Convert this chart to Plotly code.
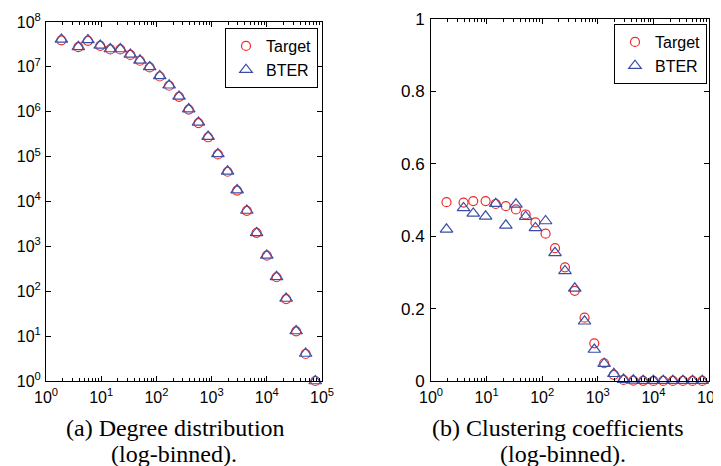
import plotly.graph_objects as go

# ---- data ----
degree_bins = [1.9, 3.85, 5.75, 9.6, 14.6, 22.2, 33.7, 50.4, 75.5, 115, 170, 257, 385, 578,
               865, 1300, 1945, 2900, 4350, 6530, 10000, 15000, 22400, 34000, 50500, 75600]

deg_target = [3.9e7, 2.75e7, 3.8e7, 2.95e7, 2.45e7, 2.45e7, 1.85e7, 1.37e7, 9.7e6, 6.1e6,
              3.8e6, 2.15e6, 1.12e6, 5.6e5, 2.7e5, 1.12e5, 4.6e4, 1.75e4, 6.2e3, 2.0e3,
              6.2e2, 2.05e2, 67, 12.8, 4.0, 1.0]
deg_bter = [4.1e7, 2.8e7, 4.0e7, 3.0e7, 2.5e7, 2.5e7, 1.9e7, 1.4e7, 1.0e7, 6.3e6,
            3.9e6, 2.2e6, 1.15e6, 5.8e5, 2.8e5, 1.15e5, 4.7e4, 1.8e4, 6.3e3, 2.0e3,
            6.3e2, 2.1e2, 69, 13, 4.1, 1.0]

cc_target = [0.494, 0.493, 0.497, 0.497, 0.489, 0.483, 0.474, 0.460, 0.438, 0.407,
             0.367, 0.314, 0.249, 0.175, 0.104, 0.049, 0.017, 0.003, 0.001, 0.0005,
             0.0003, 0.0002, 0.0001, 0.0001, 0.0001, 0.0001]
cc_bter = [0.419, 0.478, 0.463, 0.455, 0.490, 0.430, 0.488, 0.454, 0.423, 0.442,
           0.354, 0.304, 0.256, 0.165, 0.087, 0.048, 0.020, 0.004, 0.002, 0.001,
           0.001, 0.001, 0.001, 0.001, 0.001, 0.001]

x_tick_vals = [1, 10, 100, 1000, 10000, 100000]
x_tick_text = ["10<sup>%d</sup>" % i for i in range(6)]
y1_tick_vals = [10 ** i for i in range(9)]
y1_tick_text = ["10<sup>%d</sup>" % i for i in range(9)]
y2_tick_vals = [0, 0.2, 0.4, 0.6, 0.8, 1]
y2_tick_text = ["0", "0.2", "0.4", "0.6", "0.8", "1"]

RED = "#ee2b2b"
BLUE = "#3a4ea6"
W, H = 721, 466
OFF = 8  # page body margin offset in the browser


def fx(px):
    return (px - OFF) / W


def fy(py):
    return 1 - (py - OFF) / H


fig = go.Figure()


def add_pair(xa, ya, yt, yb, legend):
    fig.add_trace(go.Scatter(
        x=degree_bins, y=yt, mode="markers", name="Target", xaxis=xa, yaxis=ya,
        legend=legend, cliponaxis=False,
        marker=dict(symbol="circle-open", size=9, color=RED, line=dict(width=1.2, color=RED))))
    fig.add_trace(go.Scatter(
        x=degree_bins, y=yb, mode="markers", name="BTER", xaxis=xa, yaxis=ya,
        legend=legend, cliponaxis=False,
        marker=dict(symbol="triangle-up-open", size=11, color=BLUE, line=dict(width=1.2, color=BLUE))))


add_pair("x", "y", deg_target, deg_bter, "legend")
add_pair("x2", "y2", cc_target, cc_bter, "legend2")

SANS = "Liberation Sans, Arial, sans-serif"
logfont = dict(family=SANS, size=16, color="black")
linfont = dict(family=SANS, size=17, color="black")
minor_x = dict(ticks="inside", ticklen=3, tickcolor="black", tickwidth=1, showgrid=False,
               tickmode="array",
               tickvals=[m * 10 ** e for e in range(5) for m in range(2, 10)])

common_x = dict(type="log", range=[0, 5], tickmode="array", tickvals=x_tick_vals,
                ticktext=x_tick_text, ticks="inside", ticklen=5, tickcolor="black",
                showline=True, linecolor="black", linewidth=1, mirror="allticks",
                showgrid=False, zeroline=False, tickfont=logfont, minor=minor_x,
                ticklabelstandoff=2, automargin=False)

legend_common = dict(xanchor="right", yanchor="top", bgcolor="white",
                     bordercolor="black", borderwidth=1,
                     font=dict(family=SANS, size=16, color="black"),
                     itemwidth=30, tracegroupgap=0)

fig.update_layout(
    template="none",
    width=W, height=H, margin=dict(l=0, r=0, t=0, b=0, autoexpand=False),
    paper_bgcolor="white", plot_bgcolor="white",
    showlegend=True,
    xaxis=dict(domain=[fx(46), fx(322)], anchor="y", **common_x),
    xaxis2=dict(domain=[fx(431), fx(709)], anchor="y2", **common_x),
    yaxis=dict(domain=[fy(381), fy(22)], anchor="x", type="log", range=[0, 8],
               tickmode="array", tickvals=y1_tick_vals, ticktext=y1_tick_text,
               ticks="inside", ticklen=5, tickcolor="black", showline=True,
               linecolor="black", linewidth=1, mirror="allticks", showgrid=False,
               zeroline=False, tickfont=logfont, ticklabelstandoff=1, automargin=False),
    yaxis2=dict(domain=[fy(381), fy(19)], anchor="x2", range=[0, 1],
                tickmode="array", tickvals=y2_tick_vals, ticktext=y2_tick_text,
                ticks="inside", ticklen=5, tickcolor="black", showline=True,
                linecolor="black", linewidth=1, mirror="allticks", showgrid=False,
                zeroline=False, tickfont=linfont, ticklabelstandoff=2, automargin=False),
    legend=dict(x=fx(318), y=fy(28), **legend_common),
    legend2=dict(x=fx(707), y=fy(24), **legend_common),
)

capfont = dict(family="Liberation Serif, Times New Roman, serif", size=24, color="black")
captions = [
    (175, 428, "(a) Degree distribution"),
    (174, 454, "(log-binned)."),
    (557, 428, "(b) Clustering coefficients"),
    (563, 454, "(log-binned)."),
]
for cx, cy, txt in captions:
    fig.add_annotation(x=fx(cx), y=fy(cy), xref="paper", yref="paper", text=txt,
                       showarrow=False, xanchor="center", yanchor="middle", font=capfont)

fig.write_html("out.html")
